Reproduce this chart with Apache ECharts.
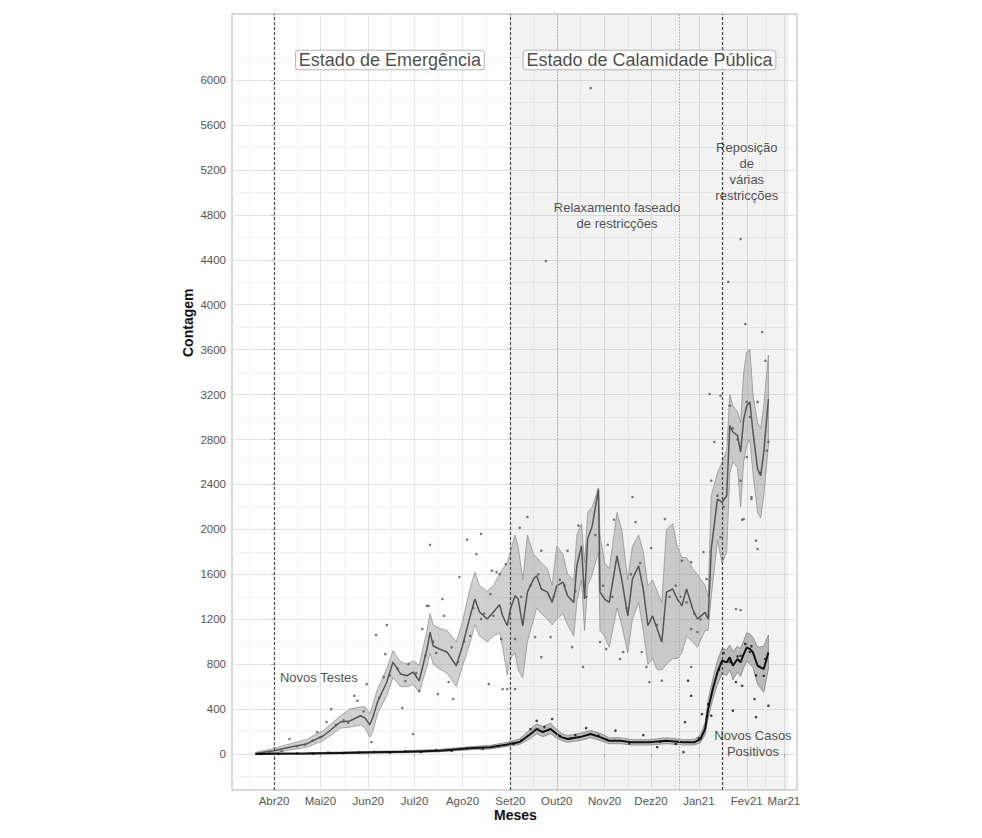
<!DOCTYPE html>
<html><head><meta charset="utf-8">
<script src="https://cdn.jsdelivr.net/npm/echarts@6/dist/echarts.min.js"></script>
<style>html,body{margin:0;padding:0;background:#fff}#c{width:982px;height:838px}</style>
</head><body><div id="c"></div>
<script>
// ---- eixos (dias desde 1 Abr 2020) ----
const mesesRotulos = ['Abr20','Mai20','Jun20','Jul20','Ago20','Set20','Out20','Nov20','Dez20','Jan21','Fev21','Mar21'];
const mesesDias = [0,30,61,91,122,153,183,214,244,275,306,330];
const mesesMenores = [-15.5,15,45.5,76,106.5,137.5,168,198.5,229,259.5,290.5,318];
const eixoY = [0,400,800,1200,1600,2000,2400,2800,3200,3600,4000,4400,4800,5200,5600,6000];
const eixoYMenor = [-200,200,600,1000,1400,1800,2200,2600,3000,3400,3800,4200,4600,5000,5400,5800,6200];

// ---- Novos Testes: média suavizada e banda ----
const testesDias = [-12,0,10,21,32,38,43,49,56,59,62,64,67,73,77,82,86,90,94,99,101,103,107,112,118,122,127,130,133,138,142,146,148,151,153,156,158,161,164,168,170,173,177,180,183,187,190,194,196,199,201,203,206,210,211,214,217,222,225,229,232,236,239,242,245,248,251,254,258,261,264,267,271,274,279,281,283,287,290,293,295,297,300,302,304,306,308,310,313,315,317,320];
const testesMedia = [5,30,60,90,163,230,285,294,341,320,260,330,463,641,819,712,697,730,653,935,1086,964,935,908,786,964,1231,1380,1264,1202,1264,1330,1231,1142,1291,1409,1380,1142,1442,1558,1587,1469,1442,1350,1498,1531,1409,1350,1676,1854,1380,1914,2033,2359,1442,1380,1350,1765,1558,1231,1558,1676,1469,1142,1231,1113,997,1442,1469,1380,1320,1469,1291,1202,1261,1202,1825,2270,2243,2300,2923,2867,2834,2689,2982,3101,3134,2867,2537,2478,2689,3160];
const testesInf = [0,10,35,60,120,180,230,240,260,230,150,200,360,520,680,600,600,620,550,780,900,800,760,720,600,780,1000,1150,1050,1000,1050,1080,950,700,850,900,750,680,1000,1200,1300,1250,1200,1150,1200,1250,1150,1050,1350,1550,1100,1500,1600,1800,1100,1050,950,1300,1150,900,1200,1350,1100,800,850,750,750,800,850,850,900,1050,1000,950,1100,1100,1400,1900,1700,1800,2500,2600,2550,2200,2600,2750,2800,2500,2150,2100,2300,2750];
const testesSup = [15,50,90,130,210,280,340,400,420,420,360,440,580,760,920,820,800,830,790,1100,1250,1150,1120,1100,1000,1180,1480,1620,1500,1450,1500,1600,1650,1700,1800,1950,1850,1550,1950,1780,1750,1700,1650,1500,1850,1780,1600,1550,1950,2050,1700,2150,2200,2370,1950,1700,1650,2150,2000,1550,1850,1950,1800,1500,1550,1450,1350,2000,2050,1850,1750,1750,1650,1600,1500,1400,2300,2500,2600,2700,3200,3100,3050,2950,3400,3580,3600,3200,2950,2900,3100,3550];

// ---- Novos Casos Positivos: média suavizada e banda ----
const casosDias = [-12,-1,21,43,64,86,107,129,140,151,159,166,170,174,179,183,186,190,198,205,211,217,224,232,243,254,265,272,276,279,281,284,287,290,293,295,297,300,302,304,306,308,310,313,317,320];
const casosMedia = [0,3,5,10,15,20,30,53,60,85,107,178,223,196,223,178,151,134,151,178,151,118,118,104,104,118,104,104,134,223,400,579,727,831,816,861,786,846,816,890,950,935,905,786,757,905];
const casosInf = [-5,0,0,3,8,12,20,40,45,68,85,140,180,155,180,140,120,105,120,145,120,92,92,80,80,92,80,80,100,170,320,490,620,720,700,750,660,730,690,770,830,800,770,620,550,760];
const casosSup = [5,8,12,18,24,30,42,68,78,105,135,225,270,245,275,220,185,165,185,210,185,145,145,128,128,145,128,130,170,280,480,670,830,940,930,970,910,960,940,1010,1080,1070,1040,950,960,1060];

// ---- pontos diários ----
const testesPontosDias = [73,66,60,72,83,90,96,99,109,110,120,131,139,144,147,151,156,106,113,94,34,28,10,52,37,54,63,71,87,98,116,127,134,142,101,100,125,134,141,146,164,159,140,197,220,232,234,253,244,216,190,150,173,169,179,156,173,193,200,211,224,215,238,241,243,251,270,274,270,264,270,285,283,280,278,289,299,302,304,312,313,309,320,306,295,294,305,316,282,289,302,303,309,306,313,318,226,148,205,302,176,5,15,20,25,30,40,45,48,58,68,75,80,85,92,103,105,115,119,123,129,136,160,166,171,181,185,188,195,202,208,213,219,228,231,237,248,256,260,263,267,272,276,287,291,297,300,308,315,319];
const testesPontosValores = [1148,1060,623,890,410,178,1113,1320,1380,1231,1576,1780,623,1620,1024,579,579,534,641,563,285,196,134,519,400,474,107,685,801,875,490,1053,1202,1231,1863,1318,1908,1959,1632,1602,2110,2015,1424,2033,2086,2288,2065,2092,1834,1863,1810,1691,1810,1042,1042,1024,863,952,775,997,846,935,908,775,641,653,775,1086,1113,1721,1709,2778,2433,1558,1798,1932,1291,1282,2092,1899,1825,2270,2778,3134,3101,4204,3828,3757,3205,3190,2433,2086,2288,2644,3134,3501,908,579,5929,4585,4389,25,70,85,120,150,260,300,280,380,500,700,760,650,720,1000,900,950,820,1000,1300,1250,1400,1500,1600,1400,1550,1500,1450,1400,1950,1500,1400,1300,1600,1700,1150,1400,1500,1400,1350,1250,1200,2300,2200,2900,2800,3000,2500,2700];
const casosPontosDias = [170,180,166,202,221,195,239,248,265,266,270,277,268,299,303,311,312,320,297,281,283,295,302,308,317,318,-8,-3,3,15,25,35,45,55,65,75,85,95,105,115,125,135,145,155,160,175,185,192,210,230,250,260,275,288,291,305,312,300,309];
const casosPontosValores = [296,312,223,231,208,169,169,62,18,285,519,356,653,641,608,490,329,430,386,445,341,819,875,908,697,846,0,4,2,6,3,12,8,14,20,12,25,18,35,28,50,45,70,90,120,240,160,140,165,95,110,90,140,750,900,980,700,870,960];

// ---- anotações ----
const linhasEscuras = [0,153,290];
const linhasClaras = [183,262];
const zonaCalamidade = [153,333];
const estados = [['Estado de Emergência',75,6178],['Estado de Calamidade Pública',243,6178]];
const notas = [['Relaxamento faseado\nde restricções',222,4790],['Reposição\nde\nvárias\nrestricções',306,5190],['Novos Testes',29,685],['Novos Casos\nPositivos',310,98]];
const tituloX = 'Meses';
const tituloY = 'Contagem';

const FONT = '"Liberation Sans", Arial, sans-serif';
const chart = echarts.init(document.getElementById('c'), null, {renderer:'svg'});

function ribbon(dias, inf, sup, fill, stroke, z){
  return {
    type:'custom', coordinateSystem:'cartesian2d', z:z, silent:true,
    data:[[dias[0], inf[0]]],
    renderItem:function(params, api){
      const pts=[];
      for(let i=0;i<dias.length;i++) pts.push(api.coord([dias[i], sup[i]]));
      for(let i=dias.length-1;i>=0;i--) pts.push(api.coord([dias[i], inf[i]]));
      return {type:'polygon', shape:{points:pts}, style:{fill:fill, stroke:stroke, lineWidth:0.7}};
    }
  };
}
function zip(a,b){return a.map((v,i)=>[v,b[i]]);}

const markLineData = linhasEscuras.map(d=>({xAxis:d, lineStyle:{color:'#4a4a4a', type:[3,2], width:1.2}}))
  .concat(linhasClaras.map(d=>({xAxis:d, lineStyle:{color:'#a8a8a8', type:[1.5,1.5], width:1}})));

const option = {
  animation:false,
  backgroundColor:'#fff',
  textStyle:{fontFamily:FONT},
  grid:{left:232, right:185, top:14, bottom:48, show:true, borderColor:'#b3b3b3', borderWidth:1, backgroundColor:'transparent'},
  graphic:[
    {type:'text', x:494, y:808, style:{text:tituloX, font:'bold 14px '+FONT, fill:'#111'}},
    {type:'text', rotation:Math.PI/2, x:181, y:357, style:{text:tituloY, font:'bold 14px '+FONT, fill:'#111'}}
  ],
  xAxis:[{
    type:'value', min:-27.2, max:338.5,
    axisLine:{show:false},
    axisTick:{show:true, length:3, lineStyle:{color:'#b3b3b3'}, customValues:mesesDias},
    axisLabel:{customValues:mesesDias, margin:5, fontSize:11.5, color:'#555', hideOverlap:false, interval:0,
      formatter:function(v){const i=mesesDias.indexOf(v);return i>=0?mesesRotulos[i]:'';}},
    splitLine:{show:true, lineStyle:{color:'#e4e4e4', width:1}}
  },{
    type:'value', min:-27.2, max:338.5, position:'top',
    axisLine:{show:false}, axisLabel:{show:false, customValues:mesesMenores},
    axisTick:{show:false, customValues:mesesMenores},
    splitLine:{show:true, lineStyle:{color:'#f3f3f3', width:1}}
  }],
  yAxis:[{
    type:'value', min:-320, max:6588,
    axisLine:{show:false},
    axisTick:{show:true, length:3, lineStyle:{color:'#b3b3b3'}, customValues:eixoY},
    axisLabel:{customValues:eixoY, margin:6, fontSize:11.5, color:'#555', hideOverlap:false, formatter:function(v){return String(v);}},
    splitLine:{show:true, lineStyle:{color:'#e4e4e4', width:1}}
  },{
    type:'value', min:-320, max:6588, position:'right',
    axisLine:{show:false}, axisLabel:{show:false, customValues:eixoYMenor},
    axisTick:{show:false, customValues:eixoYMenor},
    splitLine:{show:true, lineStyle:{color:'#f3f3f3', width:1}}
  }],
  series:[
    {type:'line', data:[], z:1, silent:true,
     markArea:{silent:true, itemStyle:{color:'rgba(0,0,0,0.05)'}, data:[[{xAxis:zonaCalamidade[0]},{xAxis:zonaCalamidade[1]}]]},
     markLine:{silent:true, symbol:['none','none'], label:{show:false}, data:markLineData}},
    ribbon(testesDias, testesInf, testesSup, 'rgba(150,150,150,0.45)', '#8a8a8a', 2),
    ribbon(casosDias, casosInf, casosSup, 'rgba(130,130,130,0.5)', '#7a7a7a', 2),
    {type:'scatter', data:zip(testesPontosDias,testesPontosValores), symbolSize:2.6, z:3, silent:true,
     itemStyle:{color:'#555'}},
    {type:'scatter', data:zip(casosPontosDias,casosPontosValores), symbolSize:2.6, z:3, silent:true,
     itemStyle:{color:'#111'}},
    {type:'line', data:zip(testesDias,testesMedia), showSymbol:false, symbol:'none', z:4, silent:true,
     lineStyle:{color:'#555', width:1.5}},
    {type:'line', data:zip(casosDias,casosMedia), showSymbol:false, symbol:'none', z:4, silent:true,
     lineStyle:{color:'#111', width:2}},
    {type:'scatter', symbolSize:0, z:6, silent:true,
     data:estados.map(e=>({value:[e[1],e[2]], name:e[0]})),
     label:{show:true, position:'inside', formatter:'{b}', fontSize:18, color:'#1a1a1a', fontFamily:FONT,
       backgroundColor:'#fff', borderColor:'#999', borderWidth:0.8, borderRadius:3, padding:[1,3,0,3]}},
    {type:'scatter', symbolSize:0, z:6, silent:true,
     data:notas.map(e=>({value:[e[1],e[2]], name:e[0]})),
     label:{show:true, position:'inside', formatter:'{b}', fontSize:13, lineHeight:16, color:'#222', fontFamily:FONT, align:'center'}}
  ]
};
chart.setOption(option);
</script></body></html>
